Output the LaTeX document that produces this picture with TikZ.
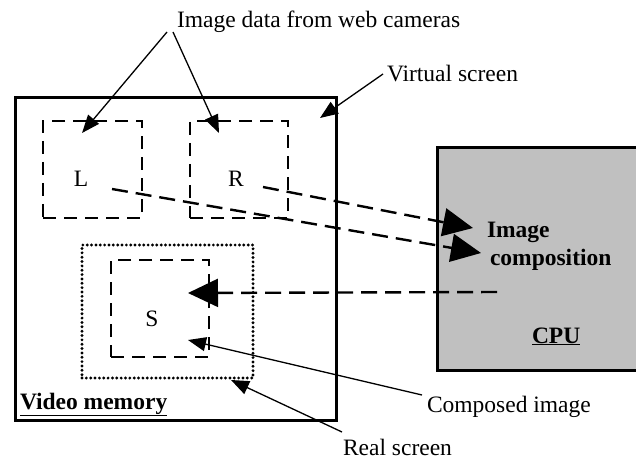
\documentclass[tikz,border=0pt]{standalone}
\usepackage{fontspec}
\setmainfont{Liberation Serif}
\usetikzlibrary{arrows.meta}
\definecolor{cpugray}{HTML}{C0C0C0}
\begin{document}
\begin{tikzpicture}[x=1pt,y=-1pt,
  every node/.style={font=\fontsize{23.5}{28}\selectfont, inner sep=0pt, outer sep=0pt},
  frame/.style={draw, line width=3pt},
  camframe/.style={draw, line width=2.4pt, dash pattern=on 13pt off 8pt},
  realframe/.style={draw, line width=3.2pt, line cap=round, dash pattern=on 0pt off 4.35pt},
  flow/.style={line width=2.4pt, dash pattern=on 16pt off 8pt, -{Triangle[length=30pt,width=28pt]}},
  pointer/.style={line width=1.3pt, -{Triangle[length=18pt,width=14pt]}},
  boldtext/.style={font=\fontsize{23.5}{28}\selectfont\bfseries}]
\useasboundingbox (0,0) rectangle (636,462);

% CPU block (runs off the right edge)
\node[frame, fill=cpugray, minimum width=206pt, minimum height=222pt, anchor=north west] (cpu) at (437,148) {};
\node[boldtext, anchor=base west] (cpulbl) at (532,343) {\underline{CPU}};
\node[boldtext, anchor=base west] (comp1) at (487,237) {Image};
\node[boldtext, anchor=base west] (comp2) at (490,265) {composition};

% video memory (virtual screen)
\node[frame, minimum width=321pt, minimum height=322pt, anchor=north west] (vs) at (15,98) {};
\node[boldtext, anchor=base west] (vmem) at (20,409) {\underline{Video memory}};

% camera images
\node[camframe, minimum width=99pt, minimum height=97pt, anchor=north west] (Lbox) at (43,121) {};
\node[camframe, minimum width=98pt, minimum height=97pt, anchor=north west] (Rbox) at (190,121) {};
\node[anchor=base] (Llbl) at (81,187) {L};
\node[anchor=base] (Rlbl) at (236,187) {R};

% real screen and composed image
\node[realframe, minimum width=171pt, minimum height=133pt, anchor=north west] (rs) at (82,245) {};
\node[camframe, minimum width=98pt, minimum height=97pt, anchor=north west] (Sbox) at (111,260) {};
\node[anchor=base] (Slbl) at (152,326) {S};

% captions
\node[anchor=base west] (camtxt) at (177,28) {Image data from web cameras};
\node[anchor=base west] (vstxt) at (387,82) {Virtual screen};
\node[anchor=base west] (cimtxt) at (427,412) {Composed image};
\node[anchor=base west] (rstxt) at (343,455) {Real screen};

% pointer ends
\coordinate (camL) at (167,32);
\coordinate (camR) at (173,32);
\coordinate (tipL) at (82,133);
\coordinate (tipR) at (219,133);
\coordinate (vsA) at (383,74);
\coordinate (vsB) at (320,118);
\coordinate (ciA) at (422,395);
\coordinate (ciB) at (188,340);
\coordinate (rsA) at (342,432);
\coordinate (rsB) at (231,380);

% data flow ends
\coordinate (fromL) at (112,189);
\coordinate (fromR) at (263,187);
\coordinate (toCL) at (481,253);
\coordinate (toCR) at (473,228);
\coordinate (fromC) at (497,292);
\coordinate (toS) at (188,293);

\draw[pointer] (camL) -- (tipL);
\draw[pointer] (camR) -- (tipR);
\draw[pointer] (vsA) -- (vsB);
\draw[pointer] (ciA) -- (ciB);
\draw[pointer] (rsA) -- (rsB);

\draw[flow] (fromR) -- (toCR);
\draw[flow] (fromL) -- (toCL);
\draw[flow] (fromC) -- (toS);
\end{tikzpicture}
\end{document}
